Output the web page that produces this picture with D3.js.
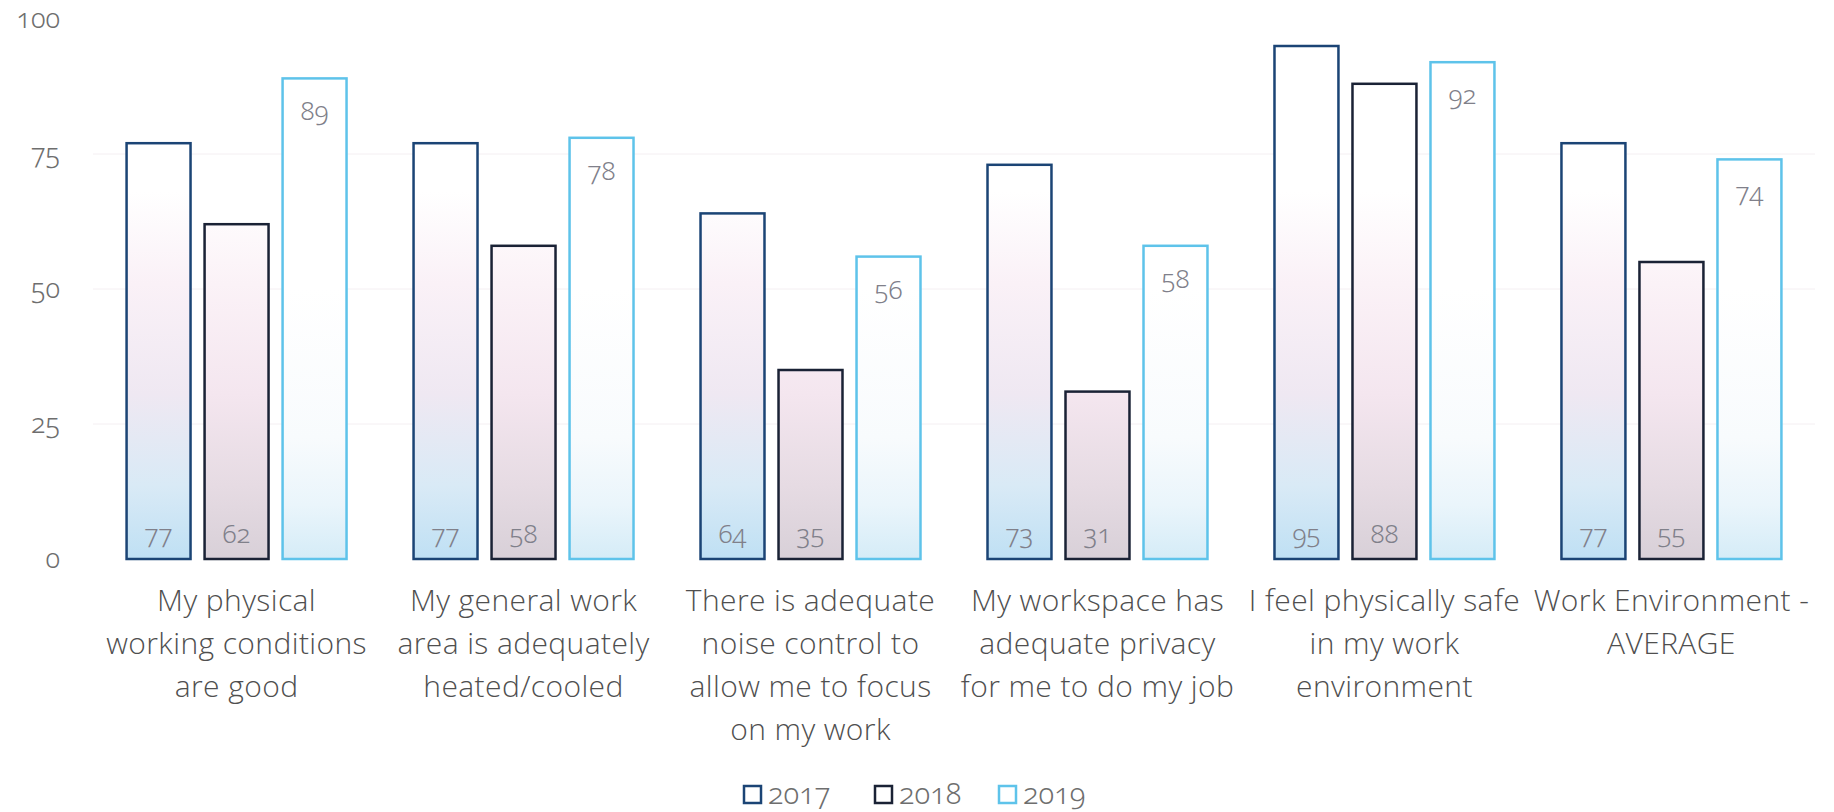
<!DOCTYPE html>
<html><head><meta charset="utf-8">
<script src="https://cdn.jsdelivr.net/npm/d3@7"></script>
<style>
html,body{margin:0;padding:0;background:#fff;}
svg{display:block;}
.num{font-family:"Noto Sans",sans-serif;font-weight:300;font-feature-settings:"onum" 1;font-variant-numeric:oldstyle-nums;}
.cat{font-family:"Open Sans",Lato,sans-serif;font-weight:300;letter-spacing:0.4px;}
</style></head>
<body><svg id="chart" width="1834" height="812"></svg>
<script>
const categories = [
  ["My physical","working conditions","are good"],
  ["My general work","area is adequately","heated/cooled"],
  ["There is adequate","noise control to","allow me to focus","on my work"],
  ["My workspace has","adequate privacy","for me to do my job"],
  ["I feel physically safe","in my work","environment"],
  ["Work Environment -","AVERAGE"]
];
const seriesNames = ["2017","2018","2019"];
const values2017 = [77, 77, 64, 73, 95, 77];
const values2018 = [62, 58, 35, 31, 88, 55];
const values2019 = [89, 78, 56, 58, 92, 74];
const yTicks = [0, 25, 50, 75, 100];

const series = [values2017, values2018, values2019];
const strokes = ["#1b4475", "#1a2235", "#5ec3ea"];

const svg = d3.select("#chart");

const y = d3.scaleLinear().domain([0, 100]).range([559, 19]);
const x0 = d3.scaleBand().domain(d3.range(categories.length))
  .range([93, 1815]).paddingInner(0.2335).paddingOuter(0.117);
const x1 = d3.scaleBand().domain(d3.range(seriesNames.length))
  .range([0, x0.bandwidth()]).paddingInner(0.18).paddingOuter(0);

// gradients (user space, anchored to the value axis)
const defs = svg.append("defs");
const gradStops = [
  [["0","#bfe0f4"],["0.2","#d9eaf6"],["0.45","#efe8f2"],["0.75","#faf1f7"],["1","#ffffff"]],
  [["0","#d8d0d8"],["0.2","#e6dbe3"],["0.45","#f4e6ef"],["0.75","#fbf2f7"],["1","#ffffff"]],
  [["0","#d5ecf7"],["0.2","#eaf5fb"],["0.45","#f8fbfd"],["1","#ffffff"]]
];
gradStops.forEach((stops, i) => {
  const g = defs.append("linearGradient").attr("id", "g" + i)
    .attr("gradientUnits", "userSpaceOnUse")
    .attr("x1", 0).attr("x2", 0).attr("y1", y(0)).attr("y2", y(i === 2 ? 50 : 68));
  stops.forEach(s => g.append("stop").attr("offset", s[0]).attr("stop-color", s[1]));
});

// faint gridlines
svg.append("g").selectAll("line").data(yTicks.filter(t => t > 0 && t < 100)).join("line")
  .attr("x1", 93).attr("x2", 1815).attr("y1", d => y(d)).attr("y2", d => y(d))
  .attr("stroke", "#f4eff2").attr("stroke-width", 1);

// y axis labels
const yAxis = d3.axisLeft(y).tickValues(yTicks).tickSize(0).tickPadding(0);
const ya = svg.append("g").attr("transform", "translate(60,0)").call(yAxis);
ya.select(".domain").remove();
ya.selectAll("text").attr("class", "num").attr("font-size", 27).attr("fill", "#6e6e6e");

// bars
const groups = svg.append("g").selectAll("g").data(categories).join("g")
  .attr("transform", (d, i) => `translate(${x0(i)},0)`);

seriesNames.forEach((s, si) => {
  groups.append("rect")
    .attr("x", x1(si)).attr("width", x1.bandwidth())
    .attr("y", (d, i) => y(series[si][i]))
    .attr("height", (d, i) => y(0) - y(series[si][i]))
    .attr("fill", `url(#g${si})`)
    .attr("stroke", strokes[si]).attr("stroke-width", 2.5);
  groups.append("text").attr("class", "num")
    .attr("x", x1(si) + x1.bandwidth() / 2)
    .attr("y", (d, i) => si < 2 ? y(0) - 16 : y(series[si][i]) + 42)
    .attr("text-anchor", "middle").attr("font-size", 26).attr("fill", "#80808a")
    .text((d, i) => series[si][i]);
});

// category labels
const cats = svg.append("g").selectAll("text").data(categories).join("text")
  .attr("class", "cat").attr("text-anchor", "middle")
  .attr("font-size", 30).attr("fill", "#4f4f4f")
  .attr("transform", (d, i) => `translate(${x0(i) + x0.bandwidth() / 2},611)`);
cats.selectAll("tspan").data(d => d).join("tspan")
  .attr("x", 0).attr("y", (d, j) => j * 43).text(d => d);

// legend
const legendX = [744, 875, 999];
const lg = svg.append("g").selectAll("g").data(seriesNames).join("g")
  .attr("transform", (d, i) => `translate(${legendX[i]},795)`);
lg.append("rect").attr("x", 0).attr("y", -9).attr("width", 17).attr("height", 17)
  .attr("fill", "none").attr("stroke", (d, i) => strokes[i]).attr("stroke-width", 2.5);
lg.append("text").attr("class", "num").attr("x", 24).attr("y", 9)
  .attr("font-size", 29).attr("fill", "#6e6e6e").text(d => d);
</script></body></html>
